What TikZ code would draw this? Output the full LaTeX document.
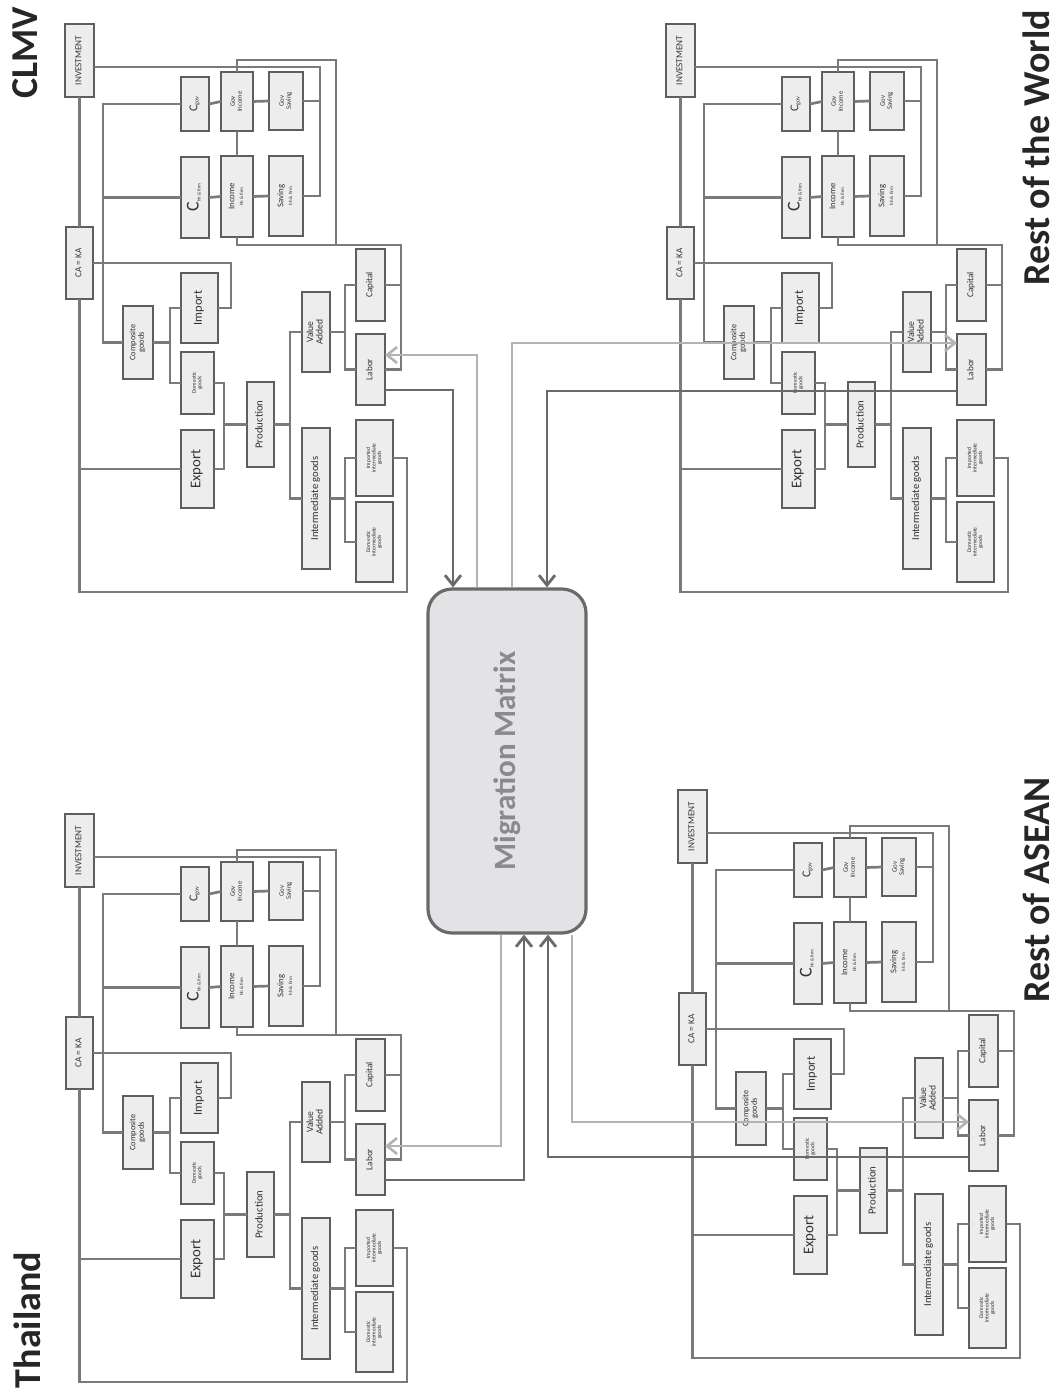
\documentclass[tikz,border=0pt]{standalone}
\usepackage{fontspec}
\setmainfont{Carlito}
\usetikzlibrary{arrows.meta}
\definecolor{boxfill}{HTML}{EDEDED}
\definecolor{boxline}{HTML}{5E5E5E}
\definecolor{conncol}{HTML}{7A7A7A}
\definecolor{lightcol}{HTML}{B3B3B3}
\definecolor{darkcol}{HTML}{6A6A6A}
\definecolor{txtcol}{HTML}{333333}
\definecolor{mmfill}{HTML}{E3E3E5}
\definecolor{mmline}{HTML}{6A6A6A}
\definecolor{mmtext}{HTML}{8A8A8C}
\definecolor{ttlcol}{HTML}{262626}
\renewcommand\arraystretch{1}
\newcommand\fs[1]{\fontsize{#1pt}{#1pt}\selectfont}
\newcommand\bx[7]{\node[box, minimum width={(#4-#2)*0.5pt}, minimum height={(#5-#3)*0.5pt}] (#1) at ({(#2+#4)/2},{(#3+#5)/2}) {\rotatebox{90}{\fs{#6}\begin{tabular}{@{}c@{}}#7\end{tabular}}};}
\newcommand\quadrant[3]{%
\begin{scope}[shift={(#2,#3)}]
\bx{#1inv}{65}{24}{94}{97}{4.6}{INVESTMENT}
\bx{#1caka}{66}{227}{93}{299}{4.6}{CA = KA}
\bx{#1cgov}{181}{77}{209}{131}{6}{C\raisebox{-0.6pt}{\fs{3}gov}}
\bx{#1ginc}{221}{72}{253}{131}{3.4}{Gov\\Income}
\bx{#1gsav}{269}{72}{303}{130}{3.4}{Gov\\Saving}
\bx{#1chh}{181}{157}{209}{238}{9}{C\raisebox{-1pt}{\fs{2.4}hh \& firm}}
\bx{#1inc}{221}{156}{253}{237}{4.4}{Income\\{\fs{2.4}hh \& firm}}
\bx{#1sav}{269}{156}{303}{236}{4.4}{Saving\\{\fs{2.4}hh \& firm}}
\bx{#1comp}{123}{306}{153}{379}{4.2}{Composite\\goods}
\bx{#1imp}{181}{273}{218}{343}{6.2}{Import}
\bx{#1dom}{181}{352}{214}{414}{2.8}{Domestic\\goods}
\bx{#1exp}{181}{430}{214}{508}{7.4}{Export}
\bx{#1prod}{247}{382}{274}{467}{5.4}{Production}
\bx{#1va}{302}{292}{330}{372}{4.8}{Value\\Added}
\bx{#1cap}{356}{249}{385}{321}{4.6}{Capital}
\bx{#1lab}{356}{334}{385}{405}{4.6}{Labor}
\bx{#1ig}{302}{428}{330}{569}{5.3}{Intermediate goods}
\bx{#1iig}{356}{420}{393}{496}{2.8}{Imported\\intermediate\\goods}
\bx{#1dig}{356}{502}{393}{582}{2.8}{Domestic\\intermediate\\goods}
\draw[conn] (#1inv.south) -- (#1caka.north);
\draw[conn] (#1caka.south) -- (#1caka.south |- 0,592) -- (407,592) -- (407,0 |- #1iig.east) -- (#1iig.east);
\draw[conn] (#1exp.west) -- (#1caka.south |- #1exp.west);
\draw[conn] (#1inv.east |- 0,67) -- (320,67) -- (320,0 |- #1sav.east) -- (#1sav.east);
\draw[conn] (#1gsav.east) -- (320,0 |- #1gsav.east);
\draw[conn] (#1cgov.east) -- (#1ginc.west);
\draw[conn] (#1ginc.east) -- (#1gsav.west);
\draw[conn] (#1chh.east) -- (#1inc.west);
\draw[conn] (#1inc.east) -- (#1sav.west);
\draw[conn] (#1ginc.south) -- (#1inc.north);
\draw[conn] (#1ginc.north) -- (#1ginc.north |- 0,60) -- (336,60) -- (336,245);
\draw[conn] (#1inc.south) -- (#1inc.south |- 0,245) -- (401,245) -- (401,0 |- #1lab.east) -- (#1lab.east);
\draw[conn] (#1cap.east) -- (401,0 |- #1cap.east);
\draw[conn] (#1cgov.west) -- (103,0 |- #1cgov.west) -- (103,0 |- #1comp.west) -- (#1comp.west);
\draw[conn] (#1chh.west) -- (103,0 |- #1chh.west);
\draw[conn] (#1caka.east) -- (231,0 |- #1caka.east) -- (231,0 |- #1imp.east) -- (#1imp.east);
\draw[conn] (#1comp.east) -- (170,0 |- #1comp.east);
\draw[conn] (#1imp.west) -- (170,0 |- #1imp.west) -- (170,0 |- #1dom.west) -- (#1dom.west);
\draw[conn] (#1dom.east) -- (224,0 |- #1dom.east) -- (224,0 |- #1exp.east) -- (#1exp.east);
\draw[conn] (#1prod.west) -- (224,0 |- #1prod.west);
\draw[conn] (#1prod.east) -- (290,0 |- #1prod.east);
\draw[conn] (#1va.west) -- (290,0 |- #1va.west) -- (290,0 |- #1ig.west) -- (#1ig.west);
\draw[conn] (#1va.east) -- (345,0 |- #1va.east);
\draw[conn] (#1cap.west) -- (345,0 |- #1cap.west) -- (345,0 |- #1lab.west) -- (#1lab.west);
\draw[conn] (#1ig.east) -- (345,0 |- #1ig.east);
\draw[conn] (#1iig.west) -- (345,0 |- #1iig.west) -- (345,0 |- #1dig.west) -- (#1dig.west);
\end{scope}}
\begin{document}
\begin{tikzpicture}[x=0.5pt,y=-0.5pt,
  box/.style={draw=boxline, fill=boxfill, line width=1.1pt, inner sep=0pt, outer sep=0pt, text=txtcol},
  conn/.style={draw=conncol, line width=1.35pt},
  darkarr/.style={draw=darkcol, line width=1.4pt, -{Straight Barb[length=5pt,width=8pt]}},
  lightarr/.style={draw=lightcol, line width=1.3pt, -{Straight Barb[length=5pt,width=8pt]}},
  ttl/.style={inner sep=0pt, text=ttlcol, font=\fontsize{19pt}{23pt}\selectfont\bfseries},
  mmbox/.style={draw=mmline, fill=mmfill, line width=1.6pt, rounded corners=12pt, inner sep=0pt,
    text=mmtext, font=\fontsize{15.5pt}{18pt}\selectfont\bfseries}]
\useasboundingbox (0,0) rectangle (1062,1395);
\fill[white] (0,0) rectangle (1062,1395);
\quadrant{C}{0}{0}
\quadrant{T}{0}{790}
\quadrant{W}{601}{0}
\quadrant{A}{613}{766}
\node[mmbox, minimum width=79pt, minimum height=172pt] (mm) at (507,761) {\rotatebox{90}{Migration Matrix}};
% CLMV
\draw[darkarr] (Clab.east |- 0,390) -- (453,390) -- (453,0 |- mm.north);
\draw[lightarr] (477,0 |- mm.north) -- (477,355) -- (Clab.east |- 0,355);
% Rest of the World
\draw[darkarr] (Wlab.west |- 0,391) -- (547,391) -- (547,0 |- mm.north);
\draw[lightarr] (512,0 |- mm.north) -- (512,343) -- (Wlab.west |- 0,343);
% Thailand
\draw[darkarr] (Tlab.east |- 0,1180) -- (524,1180) -- (524,0 |- mm.south);
\draw[lightarr] (501,0 |- mm.south) -- (501,1146) -- (Tlab.east |- 0,1146);
% Rest of ASEAN
\draw[darkarr] (Alab.west |- 0,1157) -- (548,1157) -- (548,0 |- mm.south);
\draw[lightarr] (572,0 |- mm.south) -- (572,1122) -- (Alab.west |- 0,1122);
\node[ttl] (tC) at (25,53) {\rotatebox{90}{CLMV}};
\node[ttl] (tT) at (27,1320) {\rotatebox{90}{Thailand}};
\node[ttl] (tW) at (1036,148) {\rotatebox{90}{Rest of the World}};
\node[ttl] (tA) at (1036,890) {\rotatebox{90}{Rest of ASEAN}};
\end{tikzpicture}
\end{document}
